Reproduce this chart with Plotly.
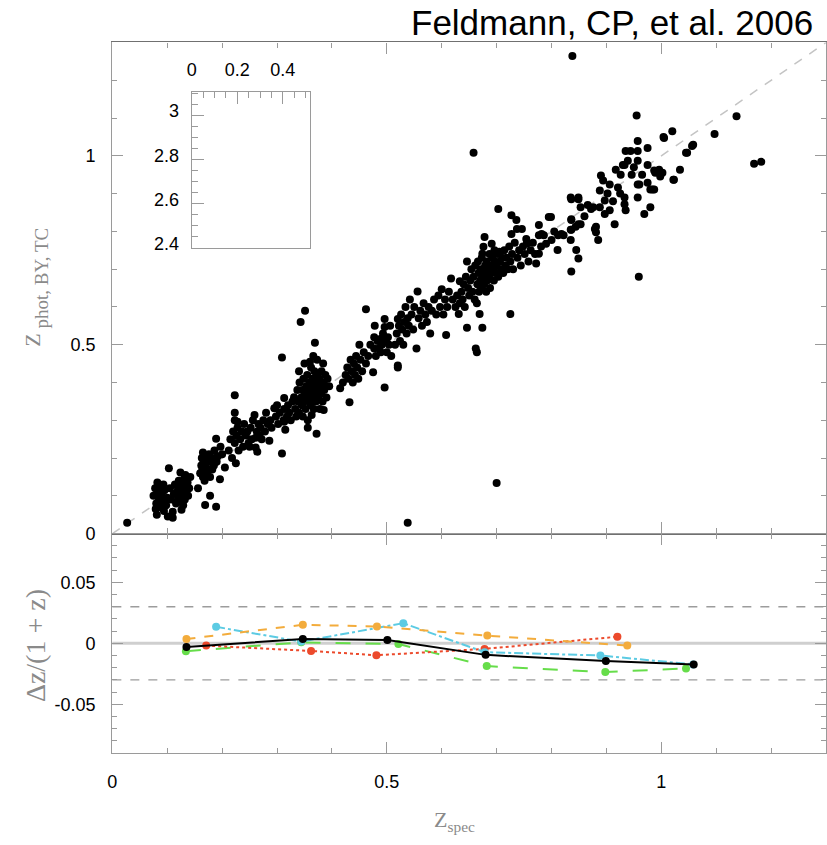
import plotly.graph_objects as go

# ---------------- data ----------------
title_text = "Feldmann, CP, et al. 2006"

# upper panel: (z_spec, z_phot) pairs, grouped by redshift clump
clump_0 = [(0.027, 0.029), (0.538, 0.029), (0.700, 0.134), (0.658, 1.008), (0.959, 0.680),
           (0.838, 1.264), (1.137, 1.105), (1.097, 1.058), (1.169, 0.979), (1.182, 0.984)]

clump_1 = [(0.075, 0.10), (0.078, 0.12), (0.080, 0.08), (0.081, 0.05), (0.083, 0.11), (0.085, 0.09),
           (0.086, 0.07), (0.088, 0.12), (0.079, 0.065), (0.090, 0.10), (0.092, 0.085), (0.094, 0.06),
           (0.095, 0.115), (0.097, 0.09), (0.082, 0.135), (0.087, 0.105), (0.093, 0.13), (0.098, 0.075),
           (0.100, 0.095), (0.101, 0.045), (0.103, 0.173), (0.105, 0.12), (0.107, 0.09), (0.110, 0.058),
           (0.110, 0.042), (0.112, 0.105), (0.114, 0.13), (0.116, 0.08), (0.118, 0.11), (0.120, 0.095),
           (0.121, 0.14), (0.122, 0.12), (0.124, 0.162), (0.124, 0.10), (0.125, 0.085), (0.126, 0.063),
           (0.127, 0.13), (0.128, 0.115), (0.130, 0.105), (0.131, 0.145), (0.132, 0.09), (0.134, 0.125),
           (0.135, 0.11), (0.137, 0.135), (0.138, 0.10), (0.140, 0.12), (0.142, 0.15), (0.119, 0.125),
           (0.129, 0.075), (0.133, 0.155)]

clump_2 = [(0.156, 0.12), (0.160, 0.16), (0.162, 0.18), (0.163, 0.20), (0.164, 0.17), (0.165, 0.15),
           (0.165, 0.215), (0.166, 0.19), (0.167, 0.165), (0.168, 0.14), (0.169, 0.076), (0.170, 0.18),
           (0.171, 0.20), (0.172, 0.16), (0.173, 0.19), (0.175, 0.17), (0.176, 0.21), (0.178, 0.10),
           (0.178, 0.15), (0.180, 0.19), (0.182, 0.17), (0.183, 0.20), (0.185, 0.18), (0.186, 0.22),
           (0.189, 0.071), (0.189, 0.251), (0.190, 0.19), (0.192, 0.205), (0.196, 0.144), (0.197, 0.23),
           (0.200, 0.21), (0.205, 0.175)]

clump_3 = [(0.212, 0.22), (0.215, 0.25), (0.218, 0.20), (0.220, 0.27), (0.223, 0.366), (0.223, 0.30),
           (0.223, 0.32), (0.223, 0.24), (0.225, 0.186), (0.226, 0.26), (0.228, 0.28), (0.228, 0.296),
           (0.230, 0.22), (0.233, 0.25), (0.236, 0.27), (0.238, 0.23), (0.240, 0.29), (0.243, 0.26),
           (0.246, 0.27), (0.248, 0.24), (0.250, 0.23), (0.252, 0.28), (0.254, 0.25), (0.256, 0.30),
           (0.259, 0.314), (0.261, 0.228), (0.261, 0.254), (0.263, 0.27), (0.264, 0.217), (0.266, 0.29),
           (0.268, 0.26), (0.270, 0.28), (0.272, 0.25), (0.275, 0.30), (0.278, 0.27), (0.280, 0.32),
           (0.283, 0.29), (0.286, 0.246), (0.288, 0.30), (0.290, 0.28)]

clump_4 = [(0.295, 0.332), (0.298, 0.31), (0.300, 0.34), (0.302, 0.29), (0.305, 0.32), (0.309, 0.212),
           (0.309, 0.466), (0.312, 0.30), (0.313, 0.296), (0.313, 0.33), (0.313, 0.359), (0.315, 0.275),
           (0.318, 0.31), (0.320, 0.34), (0.322, 0.32), (0.325, 0.30), (0.328, 0.35), (0.331, 0.361),
           (0.333, 0.33), (0.335, 0.31), (0.337, 0.38), (0.338, 0.35), (0.340, 0.32), (0.341, 0.40),
           (0.343, 0.56), (0.344, 0.36), (0.345, 0.34), (0.346, 0.38), (0.347, 0.31), (0.348, 0.41),
           (0.349, 0.35), (0.351, 0.59), (0.351, 0.37), (0.352, 0.33), (0.353, 0.39), (0.354, 0.36),
           (0.355, 0.42), (0.356, 0.30), (0.357, 0.38), (0.358, 0.35), (0.359, 0.40), (0.360, 0.37),
           (0.361, 0.34), (0.362, 0.44), (0.363, 0.39), (0.364, 0.36), (0.365, 0.41), (0.366, 0.38),
           (0.367, 0.33), (0.368, 0.43), (0.369, 0.505), (0.369, 0.37), (0.370, 0.40), (0.371, 0.35),
           (0.372, 0.264), (0.372, 0.39), (0.373, 0.46), (0.374, 0.42), (0.375, 0.36), (0.376, 0.38),
           (0.377, 0.41), (0.378, 0.33), (0.379, 0.40), (0.380, 0.37), (0.381, 0.43), (0.382, 0.39),
           (0.383, 0.35), (0.384, 0.45), (0.385, 0.40), (0.386, 0.38), (0.388, 0.42), (0.390, 0.36),
           (0.392, 0.41), (0.395, 0.39), (0.366, 0.47), (0.360, 0.455), (0.350, 0.45), (0.340, 0.43),
           (0.356, 0.28), (0.385, 0.327), (0.363, 0.314)]

clump_5 = [(0.415, 0.385), (0.420, 0.40), (0.425, 0.42), (0.428, 0.44), (0.430, 0.41), (0.432, 0.348),
           (0.434, 0.46), (0.436, 0.43), (0.438, 0.40), (0.440, 0.45), (0.442, 0.42), (0.444, 0.47),
           (0.446, 0.44), (0.448, 0.41), (0.450, 0.50), (0.452, 0.46), (0.455, 0.43), (0.458, 0.48),
           (0.462, 0.594), (0.462, 0.45), (0.466, 0.47), (0.470, 0.50), (0.475, 0.427), (0.477, 0.49),
           (0.477, 0.52), (0.478, 0.55), (0.480, 0.47), (0.483, 0.51), (0.486, 0.49), (0.489, 0.48),
           (0.489, 0.516), (0.491, 0.50), (0.493, 0.53), (0.496, 0.568), (0.496, 0.547), (0.496, 0.387),
           (0.498, 0.51), (0.500, 0.48), (0.502, 0.52), (0.504, 0.50), (0.506, 0.55), (0.508, 0.47)]

clump_6 = [(0.515, 0.50), (0.518, 0.53), (0.520, 0.445), (0.520, 0.568), (0.520, 0.44), (0.522, 0.55),
           (0.524, 0.51), (0.526, 0.58), (0.528, 0.54), (0.530, 0.50), (0.532, 0.56), (0.534, 0.60),
           (0.536, 0.53), (0.538, 0.57), (0.540, 0.55), (0.542, 0.62), (0.545, 0.58), (0.548, 0.54),
           (0.550, 0.60), (0.554, 0.49), (0.556, 0.641), (0.558, 0.57), (0.561, 0.59), (0.564, 0.55),
           (0.567, 0.61), (0.570, 0.58), (0.573, 0.56), (0.576, 0.60), (0.579, 0.53), (0.582, 0.59),
           (0.586, 0.62), (0.590, 0.58), (0.594, 0.63), (0.597, 0.60), (0.600, 0.647), (0.603, 0.58),
           (0.606, 0.62), (0.608, 0.526), (0.610, 0.60), (0.613, 0.64), (0.617, 0.675), (0.620, 0.62)]

clump_7 = [(0.625, 0.60), (0.628, 0.63), (0.631, 0.581), (0.633, 0.61), (0.633, 0.668), (0.636, 0.64),
           (0.638, 0.62), (0.640, 0.66), (0.642, 0.60), (0.644, 0.68), (0.646, 0.545), (0.646, 0.72),
           (0.648, 0.65), (0.650, 0.63), (0.652, 0.67), (0.654, 0.70), (0.656, 0.64), (0.658, 0.68),
           (0.660, 0.62), (0.661, 0.71), (0.662, 0.49), (0.664, 0.48), (0.664, 0.61), (0.665, 0.66),
           (0.666, 0.72), (0.667, 0.69), (0.668, 0.64), (0.669, 0.581), (0.670, 0.67), (0.671, 0.70),
           (0.672, 0.65), (0.673, 0.73), (0.674, 0.545), (0.674, 0.741), (0.675, 0.68), (0.676, 0.759),
           (0.677, 0.66), (0.678, 0.785), (0.679, 0.71), (0.680, 0.69), (0.681, 0.64), (0.682, 0.72),
           (0.683, 0.67), (0.684, 0.70), (0.686, 0.68), (0.687, 0.74), (0.688, 0.65), (0.689, 0.71),
           (0.690, 0.69), (0.691, 0.767), (0.692, 0.73), (0.694, 0.70), (0.695, 0.67), (0.696, 0.75),
           (0.697, 0.72), (0.698, 0.69), (0.700, 0.71), (0.701, 0.74), (0.703, 0.859), (0.703, 0.68),
           (0.705, 0.746), (0.706, 0.72), (0.708, 0.70), (0.710, 0.73), (0.712, 0.69), (0.714, 0.75),
           (0.716, 0.71), (0.718, 0.73), (0.720, 0.70), (0.723, 0.76), (0.725, 0.581), (0.725, 0.72),
           (0.727, 0.843), (0.727, 0.793), (0.728, 0.74), (0.730, 0.70), (0.733, 0.77), (0.736, 0.83),
           (0.737, 0.806), (0.738, 0.73), (0.741, 0.75), (0.744, 0.71), (0.746, 0.806), (0.748, 0.76),
           (0.751, 0.74), (0.754, 0.78), (0.755, 0.767), (0.758, 0.72), (0.762, 0.75), (0.766, 0.77),
           (0.770, 0.74), (0.772, 0.715), (0.777, 0.741), (0.777, 0.817), (0.777, 0.79), (0.781, 0.76),
           (0.786, 0.79), (0.790, 0.767), (0.795, 0.838), (0.800, 0.777), (0.805, 0.80), (0.812, 0.79),
           (0.822, 0.79)]

clump_8 = [(0.782, 0.793), (0.799, 0.838), (0.811, 0.751), (0.818, 0.793), (0.835, 0.804), (0.836, 0.694),
           (0.845, 0.751), (0.849, 0.728), (0.844, 0.812), (0.835, 0.89), (0.849, 0.89), (0.853, 0.864),
           (0.836, 0.83), (0.836, 0.804), (0.853, 0.819), (0.835, 0.777), (0.836, 0.885), (0.849, 0.885),
           (0.836, 0.832), (0.849, 0.819), (0.872, 0.859), (0.879, 0.806), (0.881, 0.812), (0.881, 0.798),
           (0.885, 0.777), (0.876, 0.864), (0.888, 0.908), (0.888, 0.864), (0.897, 0.882), (0.897, 0.846),
           (0.906, 0.856), (0.890, 0.948), (0.894, 0.935), (0.906, 0.924), (0.915, 0.819), (0.921, 0.916),
           (0.917, 0.963), (0.926, 0.950), (0.930, 0.976), (0.933, 0.89), (0.933, 0.872), (0.935, 0.856),
           (0.933, 0.976), (0.939, 0.987), (0.935, 1.013), (0.944, 1.013), (0.957, 1.039), (0.957, 1.013),
           (0.957, 0.987), (0.957, 0.924), (0.957, 0.89), (0.960, 0.924), (0.969, 0.846), (0.975, 1.021),
           (0.975, 0.976), (0.980, 0.864), (0.975, 0.929), (0.980, 0.911), (0.987, 0.911), (0.984, 0.911),
           (0.989, 0.955), (0.996, 0.963), (1.002, 0.955), (0.998, 0.945), (0.987, 0.961), (1.005, 1.047),
           (1.004, 1.050), (1.020, 1.065), (1.023, 0.937), (1.022, 0.937), (1.034, 0.963), (1.047, 1.008),
           (1.045, 1.008), (1.056, 1.026), (1.058, 1.029), (0.955, 1.107), (0.860, 0.84), (0.866, 0.87),
           (0.902, 0.90), (0.912, 0.88), (0.925, 0.90), (0.946, 0.95), (0.950, 0.97), (0.965, 0.95)]

# lower panel: delta z / (1 + z) in z_spec bins
bin_black_x = [0.135, 0.347, 0.501, 0.680, 0.899, 1.059]
bin_black_y = [-0.003, 0.0035, 0.0027, -0.0095, -0.0146, -0.0173]
bin_orange_x = [0.135, 0.347, 0.482, 0.683, 0.938]
bin_orange_y = [0.0035, 0.0152, 0.0138, 0.0063, -0.0019]
bin_cyan_x = [0.189, 0.344, 0.530, 0.678, 0.889, 1.058]
bin_cyan_y = [0.0135, 0.0014, 0.0165, -0.0073, -0.0100, -0.0173]
bin_red_x = [0.171, 0.362, 0.481, 0.678, 0.920]
bin_red_y = [-0.0019, -0.0063, -0.0098, -0.0046, 0.0054]
bin_green_x = [0.134, 0.344, 0.521, 0.682, 0.898, 1.045]
bin_green_y = [-0.0065, 0.0008, -0.0006, -0.0187, -0.0236, -0.0206]

one_to_one = [0.0, 1.3]
dz_limits = [-0.03, 0.03]

main_ticks = [0, 0.5, 1]
main_ticktext = ["0", "0.5", "1"]
dz_ticks = [-0.05, 0, 0.05]
dz_ticktext = ["-0.05", "0", "0.05"]
inset_xticks = [0, 0.2, 0.4]
inset_xticktext = ["0", "0.2", "0.4"]
inset_yticks = [2.4, 2.6, 2.8, 3.0]
inset_yticktext = ["2.4", "2.6", "2.8", "3"]

# ---------------- figure ----------------
W, H = 827, 845
AX = "#9a9a9a"
TICKFONT = dict(family="Liberation Sans, Arial, sans-serif", size=18, color="black")
LABEL_GRAY = "#8a8a8a"

all_points = clump_0 + clump_1 + clump_2 + clump_3 + clump_4 + clump_5 + clump_6 + clump_7 + clump_8
zs = [p[0] for p in all_points]
zp = [p[1] for p in all_points]

fig = go.Figure()

fig.add_trace(go.Scatter(x=zs, y=zp, mode="markers", xaxis="x", yaxis="y",
                         marker=dict(color="black", size=8, line=dict(width=0)),
                         showlegend=False, hoverinfo="skip"))

series = [
    (bin_green_x, bin_green_y, "#66dd4a", "longdash"),
    (bin_red_x, bin_red_y, "#ec4a2c", "dot"),
    (bin_cyan_x, bin_cyan_y, "#5ccbe3", "dashdot"),
    (bin_orange_x, bin_orange_y, "#f3ac3c", "dash"),
    (bin_black_x, bin_black_y, "black", "solid"),
]
for sx, sy, col, dash in series:
    fig.add_trace(go.Scatter(x=sx, y=sy, mode="lines+markers", xaxis="x2", yaxis="y2",
                             line=dict(color=col, width=2, dash=dash),
                             marker=dict(color=col, size=8),
                             showlegend=False, hoverinfo="skip"))

# empty inset
fig.add_trace(go.Scatter(x=[], y=[], xaxis="x3", yaxis="y3", showlegend=False))

# reference lines
fig.add_shape(type="line", xref="x", yref="y", x0=one_to_one[0], y0=one_to_one[0],
              x1=one_to_one[1], y1=one_to_one[1], line=dict(color="#c4c4c4", width=1.5, dash="dash"),
              layer="below")
fig.add_shape(type="line", xref="x2 domain", yref="y2", x0=0, x1=1, y0=0, y1=0,
              line=dict(color="#cfcfcf", width=3), layer="below")
for lim in dz_limits:
    fig.add_shape(type="line", xref="x2 domain", yref="y2", x0=0, x1=1, y0=lim, y1=lim,
                  line=dict(color="#9c9c9c", width=1.3, dash="dash"), layer="below")

xdom = [108 / W, 826 / W]
up_dom = [1 - 540 / H, 1 - 43 / H]
lo_dom = [1 - 762 / H, 1 - 540 / H]

common = dict(showgrid=False, zeroline=False, showline=True, linecolor=AX, linewidth=1.3,
              ticks="inside", tickcolor=AX, tickwidth=1.2, mirror="ticks", tickfont=TICKFONT)

fig.update_layout(
    width=W, height=H, margin=dict(l=0, r=0, t=0, b=0),
    paper_bgcolor="white", plot_bgcolor="white",
    xaxis=dict(domain=xdom, anchor="y", range=[0, 1.3], tickmode="array", tickvals=main_ticks,
               showticklabels=False, ticklen=11,
               minor=dict(dtick=0.1, tick0=0, ticklen=5, ticks="inside", tickcolor=AX),
               **{**common, "linecolor": "#707070"}),
    yaxis=dict(domain=up_dom, anchor="x", range=[0, 1.3], tickmode="array", tickvals=main_ticks,
               ticktext=main_ticktext, ticklen=11, ticklabelstandoff=12,
               minor=dict(dtick=0.1, tick0=0, ticklen=5, ticks="inside", tickcolor=AX), **common),
    xaxis2=dict(domain=xdom, anchor="y2", range=[0, 1.3], tickmode="array", tickvals=main_ticks,
                ticktext=main_ticktext, ticklen=11, ticklabelstandoff=12,
                minor=dict(dtick=0.1, tick0=0, ticklen=5, ticks="inside", tickcolor=AX), **common),
    yaxis2=dict(domain=lo_dom, anchor="x2", range=[-0.09, 0.09], tickmode="array", tickvals=dz_ticks,
                ticktext=dz_ticktext, ticklen=11, ticklabelstandoff=12,
                minor=dict(dtick=0.01, tick0=0, ticklen=5, ticks="inside", tickcolor=AX), **common),
    xaxis3=dict(domain=[188 / W, 307 / W], anchor="y3", range=[0, 0.52], side="top",
                tickmode="array", tickvals=inset_xticks, ticktext=inset_xticktext, ticklen=12,
                ticklabelstandoff=8, showgrid=False, zeroline=False, showline=True, linecolor=AX,
                linewidth=1.3, ticks="inside", tickcolor=AX, mirror=True, tickfont=TICKFONT,
                minor=dict(dtick=0.05, tick0=0, ticklen=6, ticks="inside", tickcolor=AX)),
    yaxis3=dict(domain=[1 - 251 / H, 1 - 93 / H], anchor="x3", range=[2.4, 3.105],
                tickmode="array", tickvals=inset_yticks, ticktext=inset_yticktext, ticklen=12,
                ticklabelstandoff=8, ticklabelshift=-4, showgrid=False, zeroline=False, showline=True,
                linecolor=AX, linewidth=1.3, ticks="inside", tickcolor=AX, mirror=True, tickfont=TICKFONT,
                minor=dict(dtick=0.05, tick0=2.4, ticklen=6, ticks="inside", tickcolor=AX)),
)

SERIF = "Liberation Serif, Times New Roman, serif"
fig.add_annotation(text=title_text, xref="paper", yref="paper", x=815 / W, y=1 - 23 / H,
                   xanchor="right", yanchor="middle", showarrow=False,
                   font=dict(family="Liberation Sans, Arial, sans-serif", size=35, color="black"))
# y label of the upper panel: main letter and its subscript
fig.add_annotation(text="Z", xref="paper", yref="paper", x=28 / W, y=1 - 344 / H,
                   textangle=-90, xanchor="center", yanchor="middle", showarrow=False,
                   font=dict(family=SERIF, size=22, color=LABEL_GRAY))
fig.add_annotation(text="phot, BY, TC", xref="paper", yref="paper", x=37 / W, y=1 - 281 / H,
                   textangle=-90, xanchor="center", yanchor="middle", showarrow=False,
                   font=dict(family=SERIF, size=19, color=LABEL_GRAY))
fig.add_annotation(text="Δz/(1 + z)", xref="paper", yref="paper", x=30 / W, y=1 - 653 / H,
                   textangle=-90, xanchor="center", yanchor="middle", showarrow=False,
                   font=dict(family=SERIF, size=28, color=LABEL_GRAY))
fig.add_annotation(text="Z<sub>spec</sub>", xref="paper", yref="paper", x=452 / W, y=1 - 831 / H,
                   xanchor="center", yanchor="middle", showarrow=False,
                   font=dict(family=SERIF, size=22, color=LABEL_GRAY))

fig.write_html("out.html")
